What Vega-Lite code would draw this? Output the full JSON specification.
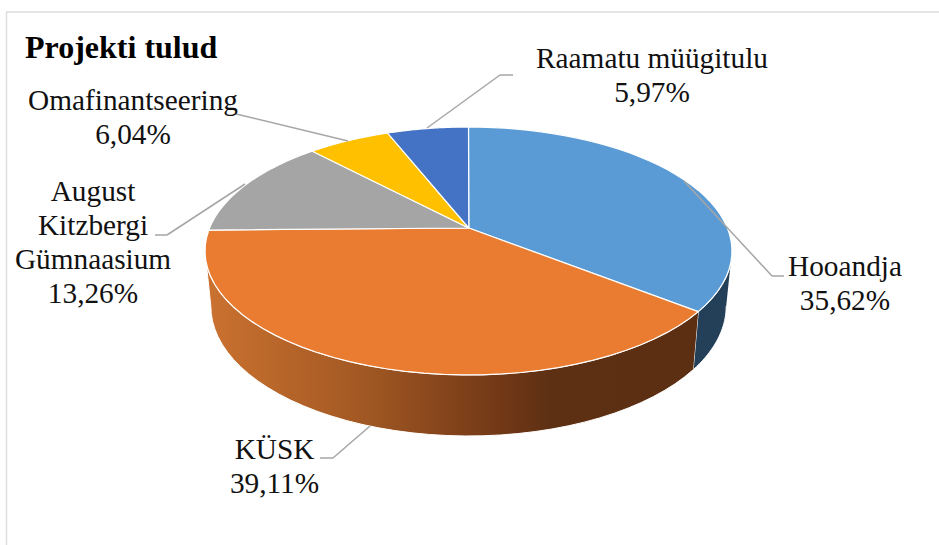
{"$schema":"https://vega.github.io/schema/vega-lite/v6.json","width":939,"height":545,"padding":0,"autosize":"none","background":"white","view":{"stroke":null},
"data":{"values":[{"ord":1,"slice":"Hooandja","share":35.62},{"ord":2,"slice":"KÜSK","share":39.11},{"ord":3,"slice":"August Kitzbergi Gümnaasium","share":13.26},{"ord":4,"slice":"Omafinantseering","share":6.04},{"ord":5,"slice":"Raamatu müügitulu","share":5.97}]},
"transform":[{"stack":"share","sort":[{"field":"ord","order":"ascending"}],"groupby":[],"as":["s0","s1"]},{"calculate":"datum.s0/100*2*PI","as":"a0"},{"calculate":"datum.s1/100*2*PI","as":"a1"},{"calculate":"replace(datum.slice,/ /g,'\\n')+'\\n'+replace(format(datum.share,'.2f'),'.',',')+'%'","as":"lab3"},{"calculate":"datum.slice+'\\n'+replace(format(datum.share,'.2f'),'.',',')+'%'","as":"lab"}],
"layer":[
{"transform":[{"filter":"datum.slice==='Hooandja'"},{"calculate":"max(datum.a0,1.757)","as":"w0"},{"calculate":"min(datum.a1,4.526)","as":"w1"},{"calculate":"sequence(0,82)","as":"j"},{"flatten":["j"]},{"calculate":"datum.j<=40?datum.j/40:(81-datum.j)/40","as":"t"},{"calculate":"datum.w0+(datum.w1-datum.w0)*datum.t","as":"a"},{"calculate":"1+0.1855*cos(datum.a)","as":"d"},{"calculate":"258.9*sin(datum.a)/datum.d*(datum.j<=40?1:0.978)+468.5","as":"px"},{"calculate":"228-119.7*cos(datum.a)/datum.d","as":"py0"},{"calculate":"datum.j<=40?datum.py0:1.047*datum.py0+43.4","as":"py"}],
"mark":{"type":"line","fill":"#234058","stroke":"white","strokeWidth":1},
"encoding":{"x":{"field":"px","type":"quantitative","scale":{"domain":[0,939],"nice":false},"axis":null},"y":{"field":"py","type":"quantitative","scale":{"domain":[545,0],"nice":false},"axis":null},"order":{"field":"j","type":"quantitative"}}},
{"transform":[{"filter":"datum.slice==='KÜSK'"},{"calculate":"max(datum.a0,1.757)","as":"w0"},{"calculate":"min(datum.a1,4.526)","as":"w1"},{"calculate":"sequence(0,82)","as":"j"},{"flatten":["j"]},{"calculate":"datum.j<=40?datum.j/40:(81-datum.j)/40","as":"t"},{"calculate":"datum.w0+(datum.w1-datum.w0)*datum.t","as":"a"},{"calculate":"1+0.1855*cos(datum.a)","as":"d"},{"calculate":"258.9*sin(datum.a)/datum.d*(datum.j<=40?1:0.978)+468.5","as":"px"},{"calculate":"228-119.7*cos(datum.a)/datum.d","as":"py0"},{"calculate":"datum.j<=40?datum.py0:1.047*datum.py0+43.4","as":"py"}],
"mark":{"type":"line","fill":{"gradient":"linear","x1":1,"x2":0,"y1":0,"y2":0,"stops":[{"offset":0,"color":"#5c2f12"},{"offset":0.3,"color":"#5e3013"},{"offset":0.42,"color":"#753a17"},{"offset":0.7,"color":"#a55a24"},{"offset":1,"color":"#cb7230"}]},"stroke":"white","strokeWidth":1},
"encoding":{"x":{"field":"px","type":"quantitative","scale":{"domain":[0,939],"nice":false},"axis":null},"y":{"field":"py","type":"quantitative","scale":{"domain":[545,0],"nice":false},"axis":null},"order":{"field":"j","type":"quantitative"}}},
{"transform":[{"calculate":"sequence(0,43)","as":"i"},{"flatten":["i"]},{"calculate":"clamp((datum.i-1)/40,0,1)","as":"t"},{"calculate":"datum.a0+(datum.a1-datum.a0)*datum.t","as":"a"},{"calculate":"1+0.1855*cos(datum.a)","as":"d"},{"calculate":"datum.i==0||datum.i==42?468.8:468.5+258.9*sin(datum.a)/datum.d","as":"px"},{"calculate":"datum.i==0||datum.i==42?228:228-119.7*cos(datum.a)/datum.d","as":"py"}],
"mark":{"type":"line","stroke":"white","strokeWidth":1.2},
"encoding":{"x":{"field":"px","type":"quantitative","scale":{"domain":[0,939],"nice":false},"axis":null},"y":{"field":"py","type":"quantitative","scale":{"domain":[545,0],"nice":false},"axis":null},"order":{"field":"i","type":"quantitative"},"detail":{"field":"slice"},"fill":{"field":"slice","type":"nominal","legend":null,"scale":{"domain":["Hooandja","KÜSK","August Kitzbergi Gümnaasium","Omafinantseering","Raamatu müügitulu"],"range":["#5B9BD5","#E97C30","#A5A5A5","#FFC000","#4472C4"]}}}},
{"transform":[{"filter":"datum.ord==1"}],"mark":{"type":"rule","stroke":"#DDDDDD","strokeWidth":1.5},"encoding":{"x":{"datum":6.5,"type":"quantitative","scale":{"domain":[0,939],"nice":false},"axis":null},"y":{"datum":12,"type":"quantitative","scale":{"domain":[545,0],"nice":false},"axis":null},"y2":{"datum":545}}},
{"transform":[{"filter":"datum.ord==1"}],"mark":{"type":"rule","stroke":"#DDDDDD","strokeWidth":1.5},"encoding":{"x":{"datum":6,"type":"quantitative","scale":{"domain":[0,939],"nice":false},"axis":null},"x2":{"datum":939},"y":{"datum":12,"type":"quantitative","scale":{"domain":[545,0],"nice":false},"axis":null}}},
{"transform":[{"filter":"datum.ord==1"}],"mark":{"type":"rule","stroke":"#A6A6A6","strokeWidth":1.5},"encoding":{"x":{"datum":684,"type":"quantitative","scale":{"domain":[0,939],"nice":false},"axis":null},"y":{"datum":181,"type":"quantitative","scale":{"domain":[545,0],"nice":false},"axis":null},"x2":{"datum":772},"y2":{"datum":276}}},
{"transform":[{"filter":"datum.ord==1"}],"mark":{"type":"rule","stroke":"#A6A6A6","strokeWidth":1.5},"encoding":{"x":{"datum":772,"type":"quantitative","scale":{"domain":[0,939],"nice":false},"axis":null},"y":{"datum":276,"type":"quantitative","scale":{"domain":[545,0],"nice":false},"axis":null},"x2":{"datum":784}}},
{"transform":[{"filter":"datum.ord==2"}],"mark":{"type":"rule","stroke":"#A6A6A6","strokeWidth":1.5},"encoding":{"x":{"datum":320,"type":"quantitative","scale":{"domain":[0,939],"nice":false},"axis":null},"y":{"datum":458,"type":"quantitative","scale":{"domain":[545,0],"nice":false},"axis":null},"x2":{"datum":333}}},
{"transform":[{"filter":"datum.ord==2"}],"mark":{"type":"rule","stroke":"#A6A6A6","strokeWidth":1.5},"encoding":{"x":{"datum":333,"type":"quantitative","scale":{"domain":[0,939],"nice":false},"axis":null},"y":{"datum":458,"type":"quantitative","scale":{"domain":[545,0],"nice":false},"axis":null},"x2":{"datum":370},"y2":{"datum":426}}},
{"transform":[{"filter":"datum.ord==3"}],"mark":{"type":"rule","stroke":"#A6A6A6","strokeWidth":1.5},"encoding":{"x":{"datum":155,"type":"quantitative","scale":{"domain":[0,939],"nice":false},"axis":null},"y":{"datum":235,"type":"quantitative","scale":{"domain":[545,0],"nice":false},"axis":null},"x2":{"datum":167}}},
{"transform":[{"filter":"datum.ord==3"}],"mark":{"type":"rule","stroke":"#A6A6A6","strokeWidth":1.5},"encoding":{"x":{"datum":167,"type":"quantitative","scale":{"domain":[0,939],"nice":false},"axis":null},"y":{"datum":235,"type":"quantitative","scale":{"domain":[545,0],"nice":false},"axis":null},"x2":{"datum":245},"y2":{"datum":184}}},
{"transform":[{"filter":"datum.ord==4"}],"mark":{"type":"rule","stroke":"#A6A6A6","strokeWidth":1.5},"encoding":{"x":{"datum":236,"type":"quantitative","scale":{"domain":[0,939],"nice":false},"axis":null},"y":{"datum":114,"type":"quantitative","scale":{"domain":[545,0],"nice":false},"axis":null},"x2":{"datum":348},"y2":{"datum":141}}},
{"transform":[{"filter":"datum.ord==5"}],"mark":{"type":"rule","stroke":"#A6A6A6","strokeWidth":1.5},"encoding":{"x":{"datum":513,"type":"quantitative","scale":{"domain":[0,939],"nice":false},"axis":null},"y":{"datum":75,"type":"quantitative","scale":{"domain":[545,0],"nice":false},"axis":null},"x2":{"datum":500}}},
{"transform":[{"filter":"datum.ord==5"}],"mark":{"type":"rule","stroke":"#A6A6A6","strokeWidth":1.5},"encoding":{"x":{"datum":500,"type":"quantitative","scale":{"domain":[0,939],"nice":false},"axis":null},"y":{"datum":75,"type":"quantitative","scale":{"domain":[545,0],"nice":false},"axis":null},"x2":{"datum":427},"y2":{"datum":128}}},
{"transform":[{"filter":"datum.ord==1"}],"mark":{"type":"text","font":"Liberation Serif","fontSize":29.3,"lineHeight":34,"lineBreak":"\n","align":"center","baseline":"alphabetic","color":"#111111"},"encoding":{"text":{"field":"lab"},"x":{"datum":845,"type":"quantitative","scale":{"domain":[0,939],"nice":false},"axis":null},"y":{"datum":276,"type":"quantitative","scale":{"domain":[545,0],"nice":false},"axis":null}}},
{"transform":[{"filter":"datum.ord==2"}],"mark":{"type":"text","font":"Liberation Serif","fontSize":29.3,"lineHeight":34,"lineBreak":"\n","align":"center","baseline":"alphabetic","color":"#111111"},"encoding":{"text":{"field":"lab"},"x":{"datum":274.5,"type":"quantitative","scale":{"domain":[0,939],"nice":false},"axis":null},"y":{"datum":459,"type":"quantitative","scale":{"domain":[545,0],"nice":false},"axis":null}}},
{"transform":[{"filter":"datum.ord==3"}],"mark":{"type":"text","font":"Liberation Serif","fontSize":29.3,"lineHeight":34,"lineBreak":"\n","align":"center","baseline":"alphabetic","color":"#111111"},"encoding":{"text":{"field":"lab3"},"x":{"datum":93,"type":"quantitative","scale":{"domain":[0,939],"nice":false},"axis":null},"y":{"datum":201,"type":"quantitative","scale":{"domain":[545,0],"nice":false},"axis":null}}},
{"transform":[{"filter":"datum.ord==4"}],"mark":{"type":"text","font":"Liberation Serif","fontSize":29.3,"lineHeight":34,"lineBreak":"\n","align":"center","baseline":"alphabetic","color":"#111111"},"encoding":{"text":{"field":"lab"},"x":{"datum":133,"type":"quantitative","scale":{"domain":[0,939],"nice":false},"axis":null},"y":{"datum":110,"type":"quantitative","scale":{"domain":[545,0],"nice":false},"axis":null}}},
{"transform":[{"filter":"datum.ord==5"}],"mark":{"type":"text","font":"Liberation Serif","fontSize":29.3,"lineHeight":34,"lineBreak":"\n","align":"center","baseline":"alphabetic","color":"#111111"},"encoding":{"text":{"field":"lab"},"x":{"datum":652,"type":"quantitative","scale":{"domain":[0,939],"nice":false},"axis":null},"y":{"datum":68,"type":"quantitative","scale":{"domain":[545,0],"nice":false},"axis":null}}},
{"transform":[{"filter":"datum.ord==1"}],"mark":{"type":"text","font":"Liberation Serif","fontSize":32,"fontWeight":"bold","align":"left","baseline":"alphabetic","color":"#000000"},"encoding":{"text":{"value":"Projekti tulud"},"x":{"datum":25,"type":"quantitative","scale":{"domain":[0,939],"nice":false},"axis":null},"y":{"datum":58,"type":"quantitative","scale":{"domain":[545,0],"nice":false},"axis":null}}}
]}
